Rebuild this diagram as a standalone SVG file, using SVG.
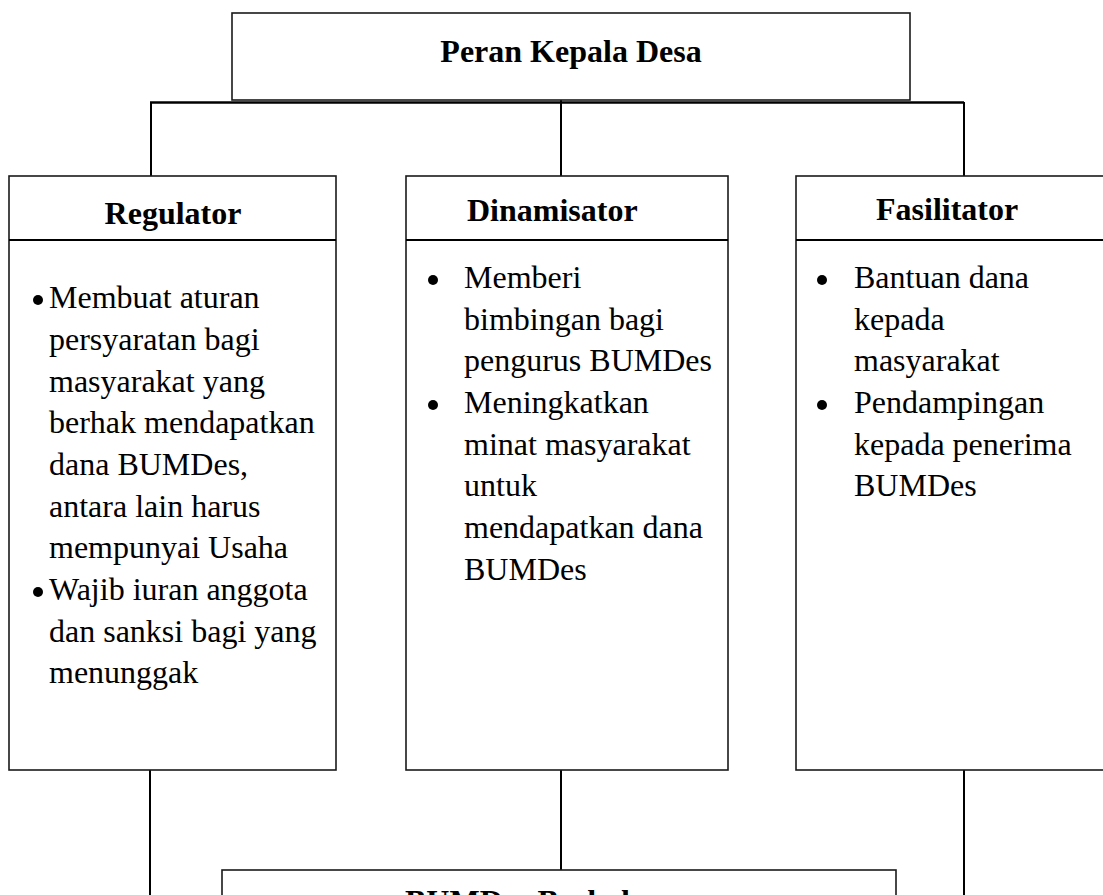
<svg xmlns="http://www.w3.org/2000/svg" width="1103" height="895" viewBox="0 0 1103 895">
<style>
  .box { fill: #fff; stroke: #1a1a1a; stroke-width: 1.6; }
  .div { stroke: #000; stroke-width: 2.2; }
  .conn { stroke: #000; stroke-width: 2; fill: none; }
  .h { font-family: "Liberation Serif", "Times New Roman", serif; font-size: 32px; font-weight: bold; fill: #000; }
  .t { font-family: "Liberation Serif", "Times New Roman", serif; font-size: 32px; fill: #000; }
  .bullet { fill: #000; }
</style>
<rect width="1103" height="895" fill="#fff"/>

<g id="connectors">
  <line class="conn" x1="561" y1="67" x2="561" y2="177"/>
  <line class="conn" x1="150" y1="102.5" x2="964" y2="102.5" style="stroke-width:2.6"/>
  <line class="conn" x1="151" y1="102" x2="151" y2="177"/>
  <line class="conn" x1="964" y1="102" x2="964" y2="177"/>
  <line class="conn" x1="150" y1="770" x2="150" y2="895"/>
  <line class="conn" x1="561" y1="770" x2="561" y2="870"/>
  <line class="conn" x1="964" y1="767" x2="964" y2="895"/>
</g>

<g id="node-peran">
  <rect class="box" x="232" y="13" width="678" height="87"/>
  <text class="h" x="571" y="62" text-anchor="middle">Peran Kepala Desa</text>
</g>

<g id="node-regulator">
  <rect class="box" x="9" y="176" width="327" height="594"/>
  <line class="div" x1="9" y1="240" x2="336" y2="240"/>
  <text class="h" x="173" y="224" text-anchor="middle">Regulator</text>
  <circle class="bullet" cx="38" cy="300" r="5"/>
  <text class="t" x="49" y="308">Membuat aturan</text>
  <text class="t" x="49" y="350">persyaratan bagi</text>
  <text class="t" x="49" y="392">masyarakat yang</text>
  <text class="t" x="49" y="433">berhak mendapatkan</text>
  <text class="t" x="49" y="475">dana BUMDes,</text>
  <text class="t" x="49" y="517">antara lain harus</text>
  <text class="t" x="49" y="558">mempunyai Usaha</text>
  <circle class="bullet" cx="38" cy="592" r="5"/>
  <text class="t" x="49" y="600">Wajib iuran anggota</text>
  <text class="t" x="49" y="642">dan sanksi bagi yang</text>
  <text class="t" x="49" y="683">menunggak</text>
</g>

<g id="node-dinamisator">
  <rect class="box" x="406" y="176" width="322" height="594"/>
  <line class="div" x1="406" y1="240" x2="728" y2="240"/>
  <text class="h" x="467" y="221">Dinamisator</text>
  <circle class="bullet" cx="433" cy="280" r="5"/>
  <text class="t" x="464" y="288">Memberi</text>
  <text class="t" x="464" y="330">bimbingan bagi</text>
  <text class="t" x="464" y="371">pengurus BUMDes</text>
  <circle class="bullet" cx="433" cy="405" r="5"/>
  <text class="t" x="464" y="413">Meningkatkan</text>
  <text class="t" x="464" y="455">minat masyarakat</text>
  <text class="t" x="464" y="496">untuk</text>
  <text class="t" x="464" y="538">mendapatkan dana</text>
  <text class="t" x="464" y="580">BUMDes</text>
</g>

<g id="node-fasilitator">
  <rect class="box" x="796" y="176" width="320" height="594"/>
  <line class="div" x1="796" y1="240" x2="1110" y2="240"/>
  <text class="h" x="876" y="220">Fasilitator</text>
  <circle class="bullet" cx="822" cy="280" r="5"/>
  <text class="t" x="854" y="288">Bantuan dana</text>
  <text class="t" x="854" y="330">kepada</text>
  <text class="t" x="854" y="371">masyarakat</text>
  <circle class="bullet" cx="822" cy="405" r="5"/>
  <text class="t" x="854" y="413">Pendampingan</text>
  <text class="t" x="854" y="455">kepada penerima</text>
  <text class="t" x="854" y="496">BUMDes</text>
</g>

<g id="node-bumdes">
  <rect class="box" x="222" y="870" width="674" height="60"/>
  <text class="h" x="405" y="912">BUMDes Berkah</text>
</g>
</svg>
